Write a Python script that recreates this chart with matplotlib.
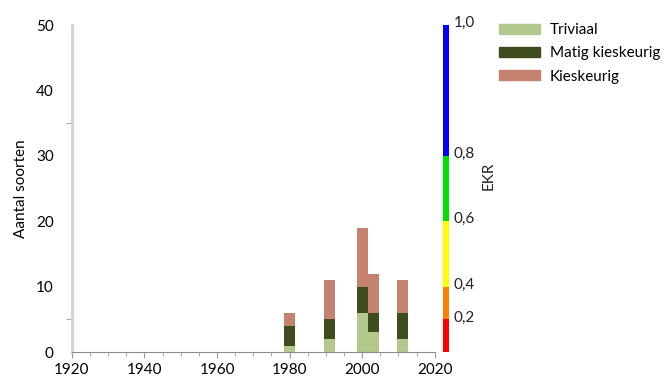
import numpy as np
import matplotlib.pyplot as plt
from matplotlib.patches import Patch

plt.rcParams['font.family'] = ['Lato', 'DejaVu Sans']

# data
years = [1980, 1991, 2000, 2003, 2011]
triviaal = [1, 2, 6, 3, 2]
matig = [3, 3, 4, 3, 4]
kieskeurig = [2, 6, 9, 6, 5]

# EKR class boundaries, drawn on the left-axis scale
ekr_bounds = [0, 5, 10, 20, 30, 50]
ekr_labels = ['0,2', '0,4', '0,6', '0,8', '1,0']
ekr_colors = ['#ff0000', '#ff8000', '#ffff00', '#00e000', '#0000ff']

c_triv = '#b4c78c'
c_matig = '#3f4d1e'
c_kies = '#c4826f'

fig = plt.figure(figsize=(6.72, 3.81), dpi=100)
ax = fig.add_axes([0.107, 0.076, 0.540, 0.858])

t = np.array(triviaal)
m = np.array(matig)
k = np.array(kieskeurig)
ax.bar(years, t, width=3, color=c_triv, linewidth=0)
ax.bar(years, m, width=3, bottom=t, color=c_matig, linewidth=0)
ax.bar(years, k, width=3, bottom=t + m, color=c_kies, linewidth=0)

# EKR colour scale next to the plot
for i in range(len(ekr_colors)):
    lo, hi = ekr_bounds[i], ekr_bounds[i + 1]
    ax.bar(2023.2, hi - lo, width=1.7, bottom=lo, color=ekr_colors[i],
           linewidth=0, clip_on=False)
    ax.text(2025.2, hi + 0.3, ekr_labels[i], ha='left', va='center',
            fontsize=11, color='#222222')
ax.text(2034.8, 27, 'EKR', rotation=90, ha='center', va='center',
        fontsize=11, color='#222222')

ax.set_xlim(1920, 2020)
ax.set_ylim(0, 50)
ax.set_xticks(range(1920, 2021, 20))
ax.set_xticks(range(1920, 2021, 5), minor=True)
ax.set_yticks(range(0, 51, 10))
ax.set_yticks([5, 20, 35, 50], minor=True)
ax.tick_params(axis='y', which='major', length=0, labelsize=11, pad=13)
ax.tick_params(axis='y', which='minor', length=4, color='#999999')
ax.tick_params(axis='x', which='major', length=4, color='#999999',
               labelsize=11, pad=4)
ax.tick_params(axis='x', which='minor', length=3, color='#999999')
ax.set_ylabel('Aantal soorten', fontsize=11, labelpad=6)

for s in ['top', 'right']:
    ax.spines[s].set_visible(False)
ax.spines['left'].set_color('#d0d0d0')
ax.spines['left'].set_linewidth(2)
ax.spines['bottom'].set_color('#8c8c8c')

handles = [Patch(color=c_triv), Patch(color=c_matig), Patch(color=c_kies)]
fig.legend(handles, ['Triviaal', 'Matig kieskeurig', 'Kieskeurig'],
           loc='upper left', bbox_to_anchor=(0.722, 0.975), frameon=False,
           fontsize=11, handlelength=2.7, handleheight=0.6,
           labelspacing=0.6, handletextpad=0.65)

fig.savefig('out.png', dpi=100)
